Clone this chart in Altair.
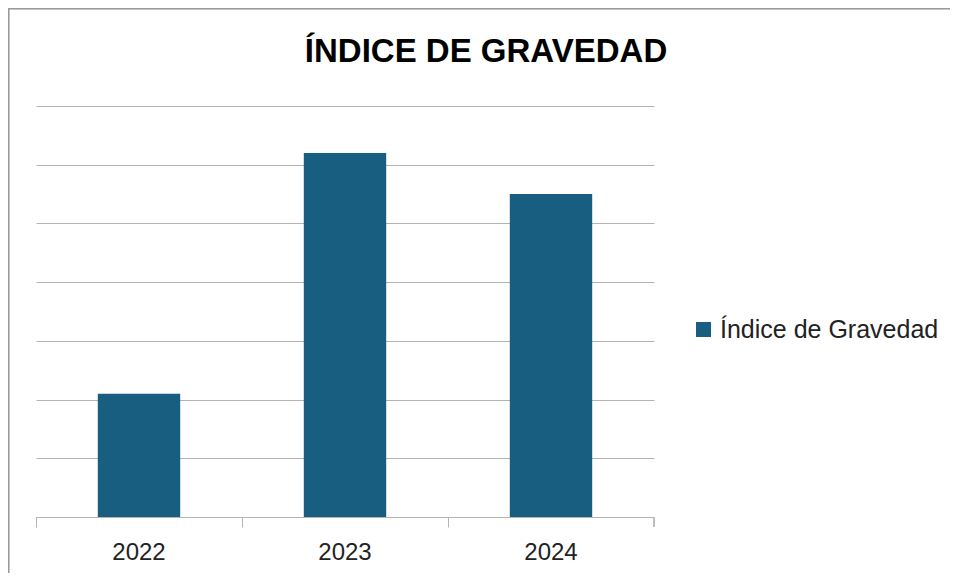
import altair as alt
import pandas as pd

years = ["2022", "2023", "2024"]
values = [2.1, 6.2, 5.5]
series = ["Índice de Gravedad"] * 3
grid_values = [0, 1, 2, 3, 4, 5, 6, 7]

BAR = "#185E80"
GRID = "#B4B4B4"
W, H = 618, 411
PAD = {"left": 28, "top": 98, "right": 296, "bottom": 56}

df = pd.DataFrame({"year": years, "value": values, "serie": series})

base = alt.Chart(df)

bars = base.mark_bar(width=alt.RelativeBandSize(0.4), color=BAR).encode(
    x=alt.X(
        "year:N",
        title=None,
        scale=alt.Scale(paddingInner=0, paddingOuter=0),
        axis=alt.Axis(
            labelAngle=0,
            labelFontSize=24,
            labelFont="Liberation Sans",
            labelColor="#222222",
            labelPadding=13,
            bandPosition=0,
            tickSize=10,
            tickColor=GRID,
            domainColor=GRID,
            grid=False,
        ),
    ),
    y=alt.Y(
        "value:Q",
        title=None,
        scale=alt.Scale(domain=[0, 7], nice=False),
        axis=alt.Axis(
            values=grid_values,
            labels=False,
            ticks=False,
            domain=False,
            grid=True,
            gridColor=GRID,
            gridWidth=1,
        ),
    ),
    color=alt.Color(
        "serie:N",
        scale=alt.Scale(range=[BAR]),
        legend=alt.Legend(
            title=None,
            orient="none",
            legendX=655,
            legendY=211,
            symbolType="square",
            symbolSize=225,
            symbolStrokeWidth=0,
            labelFontSize=25,
            labelFont="Liberation Sans",
            labelColor="#222222",
            labelOffset=4,
            labelLimit=400,
            padding=0,
        ),
    ),
)

# last category-boundary tick at the right end of the axis
end_tick = base.mark_rule(color=GRID).encode(
    x=alt.value(W), y=alt.value(H), y2=alt.value(H + 10)
)

# chart-area border (top and left edges visible)
border_top = base.mark_rule(color="#9A9A9A", strokeWidth=1.5).encode(
    x=alt.value(-PAD["left"]), x2=alt.value(W + PAD["right"]), y=alt.value(-PAD["top"] + 0.5)
)
border_left = base.mark_rule(color="#9A9A9A", strokeWidth=1.5).encode(
    x=alt.value(-PAD["left"] + 0.5), y=alt.value(-PAD["top"]), y2=alt.value(H + PAD["bottom"])
)

chart = (
    alt.layer(bars, end_tick, border_top, border_left)
    .properties(
        width=W,
        height=H,
        padding=PAD,
        autosize=alt.AutoSizeParams(type="none"),
        background="white",
        title=alt.TitleParams(
            "ÍNDICE DE GRAVEDAD",
            font="Liberation Sans",
            fontSize=33,
            fontWeight="bold",
            color="#000000",
            anchor="middle",
            frame="group",
            dx=141,
            offset=-88,
            baseline="alphabetic",
        ),
    )
    .configure_view(stroke=None)
)

chart.save("out.html", embed_options={"renderer": "svg", "actions": False})
